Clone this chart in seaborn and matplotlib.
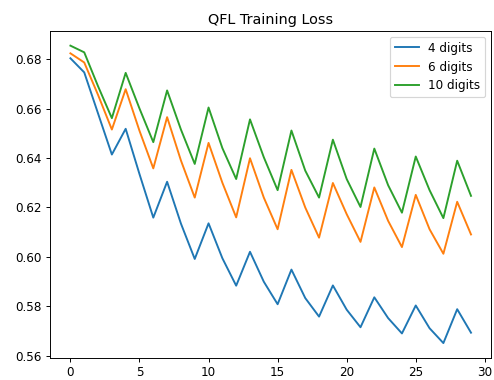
import numpy as np
import pandas as pd
import matplotlib
matplotlib.use("Agg")
import matplotlib.pyplot as plt
import seaborn as sns

epochs = list(range(30))
loss_4 = [0.6803, 0.6746, 0.6580, 0.6414, 0.6518, 0.6335, 0.6159, 0.6304, 0.6135, 0.5992,
          0.6136, 0.5995, 0.5884, 0.6021, 0.5900, 0.5809, 0.5949, 0.5834, 0.5759, 0.5885,
          0.5787, 0.5716, 0.5837, 0.5753, 0.5691, 0.5804, 0.5712, 0.5652, 0.5789, 0.5694]
loss_6 = [0.6823, 0.6786, 0.6655, 0.6515, 0.6678, 0.6510, 0.6358, 0.6565, 0.6390, 0.6240,
          0.6461, 0.6300, 0.6160, 0.6399, 0.6240, 0.6112, 0.6352, 0.6200, 0.6078, 0.6299,
          0.6173, 0.6061, 0.6281, 0.6146, 0.6040, 0.6251, 0.6112, 0.6013, 0.6223, 0.6091]
loss_10 = [0.6854, 0.6827, 0.6690, 0.6561, 0.6744, 0.6600, 0.6464, 0.6673, 0.6515, 0.6376,
           0.6604, 0.6440, 0.6315, 0.6556, 0.6403, 0.6270, 0.6511, 0.6349, 0.6240, 0.6474,
           0.6315, 0.6202, 0.6438, 0.6290, 0.6179, 0.6406, 0.6270, 0.6157, 0.6389, 0.6247]
series_names = ["4 digits", "6 digits", "10 digits"]

df = pd.concat([
    pd.DataFrame({"epoch": epochs, "loss": vals, "model": name})
    for name, vals in zip(series_names, [loss_4, loss_6, loss_10])
])

DPI = 86
fig, ax = plt.subplots(figsize=(494 / DPI, 380 / DPI), dpi=DPI)
sns.lineplot(data=df, x="epoch", y="loss", hue="model", hue_order=series_names,
             palette=["#1f77b4", "#ff7f0e", "#2ca02c"], ax=ax, linewidth=1.6)
ax.set_title("QFL Training Loss")
ax.set_xlabel("")
ax.set_ylabel("")
ax.set_xticks([0, 5, 10, 15, 20, 25, 30])
handles, labels = ax.get_legend_handles_labels()
ax.legend(handles, labels, loc="upper right")
fig.subplots_adjust(left=0.102, right=0.994, top=0.919, bottom=0.058)
fig.savefig("out.png", dpi=DPI)
